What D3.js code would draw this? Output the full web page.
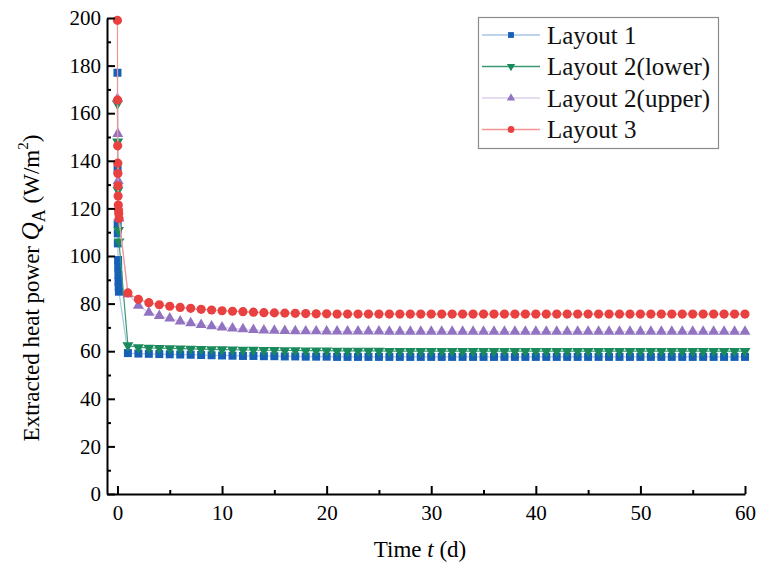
<!DOCTYPE html>
<html>
<head>
<meta charset="utf-8">
<script src="https://cdn.jsdelivr.net/npm/d3@7"></script>
<style>
  html, body { margin: 0; padding: 0; background: #fff; }
  svg { display: block; font-family: "Liberation Serif", "Times New Roman", serif; }
</style>
</head>
<body>
<svg id="chart" width="757" height="568"></svg>
<script>
// Extracted heat power over time for the four layouts.
// Each layout: a dense start-up phase on day 0, then one value per day (1..60).

const days = d3.range(1, 61);

// Layout 1
const layout1EarlyT = [0, 0.01, 0.02, 0.03, 0.04, 0.06, 0.07, 0.09, 0.1, 0.12, 0.14];
const layout1EarlyV = [177, 136.4, 113.7, 109.5, 105.3, 98.3, 95.2, 92.0, 89.2, 87.0, 85.0];
const layout1Daily = [
  59.2, 59.0, 58.9, 58.8, 58.7, 58.6, 58.5, 58.4, 58.3, 58.2,
  58.1, 58.0, 58.0, 57.9, 57.9, 57.8, 57.8, 57.7, 57.7, 57.7,
  57.6, 57.6, 57.6, 57.6, 57.6, 57.6, 57.6, 57.6, 57.6, 57.6,
  57.6, 57.6, 57.6, 57.6, 57.6, 57.6, 57.6, 57.6, 57.6, 57.6,
  57.6, 57.6, 57.6, 57.6, 57.6, 57.6, 57.6, 57.6, 57.6, 57.6,
  57.6, 57.6, 57.6, 57.6, 57.6, 57.6, 57.6, 57.6, 57.6, 57.6
];

// Layout 2 (lower)
const layout2LowEarlyT = [0, 0.02, 0.05, 0.1, 0.15];
const layout2LowEarlyV = [164, 148, 127.7, 110.9, 106];
const layout2LowDaily = [
  62.4, 61.6, 61.4, 61.3, 61.2, 61.1, 61.0, 60.9, 60.8, 60.7,
  60.6, 60.5, 60.5, 60.4, 60.4, 60.3, 60.3, 60.2, 60.2, 60.2,
  60.1, 60.1, 60.1, 60.1, 60.1, 60.0, 60.0, 60.0, 60.0, 60.0,
  60.0, 60.0, 60.0, 60.0, 60.0, 60.0, 60.0, 60.0, 60.0, 60.0,
  60.0, 60.0, 60.0, 60.0, 60.0, 60.0, 60.0, 60.0, 60.0, 60.0,
  60.0, 60.0, 60.0, 60.0, 60.0, 60.0, 60.0, 60.0, 60.0, 60.0
];

// Layout 2 (upper)
const layout2UpEarlyT = [0, 0.03, 0.07, 0.15];
const layout2UpEarlyV = [166, 151.3, 131.6, 115.8];
const layout2UpDaily = [
  84.0, 79.2, 76.2, 74.9, 73.8, 72.6, 71.8, 71.1, 70.5, 70.0,
  69.6, 69.3, 69.0, 68.8, 68.7, 68.6, 68.5, 68.4, 68.4, 68.3,
  68.3, 68.3, 68.3, 68.3, 68.3, 68.2, 68.2, 68.2, 68.2, 68.2,
  68.2, 68.2, 68.2, 68.2, 68.2, 68.2, 68.2, 68.2, 68.2, 68.2,
  68.2, 68.2, 68.2, 68.2, 68.2, 68.2, 68.2, 68.2, 68.2, 68.2,
  68.2, 68.2, 68.2, 68.2, 68.2, 68.2, 68.2, 68.2, 68.2, 68.2
];

// Layout 3
const layout3EarlyT = [0, 0.01, 0.02, 0.03, 0.04, 0.05, 0.06, 0.08, 0.1, 0.12, 0.15];
const layout3EarlyV = [199, 165.5, 146.3, 139, 134.7, 129.5, 125.2, 121.4, 119.3, 117.9, 115.8];
const layout3Daily = [
  84.5, 81.8, 80.4, 79.5, 78.9, 78.4, 78.0, 77.6, 77.3, 77.0,
  76.8, 76.6, 76.4, 76.2, 76.1, 76.0, 75.9, 75.8, 75.7, 75.7,
  75.6, 75.6, 75.6, 75.6, 75.6, 75.6, 75.6, 75.6, 75.6, 75.6,
  75.6, 75.6, 75.6, 75.6, 75.6, 75.6, 75.6, 75.6, 75.6, 75.6,
  75.6, 75.6, 75.6, 75.6, 75.6, 75.6, 75.6, 75.6, 75.6, 75.6,
  75.6, 75.6, 75.6, 75.6, 75.6, 75.6, 75.6, 75.6, 75.6, 75.6
];

const seriesNames = ["Layout 1", "Layout 2(lower)", "Layout 2(upper)", "Layout 3"];
const xMajorTicks = [0, 10, 20, 30, 40, 50, 60];
const xMinorTicks = [5, 15, 25, 35, 45, 55];
const yMajorTicks = [0, 20, 40, 60, 80, 100, 120, 140, 160, 180, 200];
const yMinorTicks = [10, 30, 50, 70, 90, 110, 130, 150, 170, 190];

function joinSeries(earlyT, earlyV, daily) {
  const pts = earlyT.map((t, i) => ({ t, v: earlyV[i] }));
  days.forEach((d, i) => pts.push({ t: d, v: daily[i] }));
  return pts;
}

const series = [
  { name: seriesNames[0], data: joinSeries(layout1EarlyT, layout1EarlyV, layout1Daily),
    line: "#a9c6e8", fill: "#1661b6", symbol: d3.symbolSquare, size: 64, legendSize: 34, rotate: 0 },
  { name: seriesNames[1], data: joinSeries(layout2LowEarlyT, layout2LowEarlyV, layout2LowDaily),
    line: "#3b9a72", fill: "#1a8a5c", symbol: d3.symbolTriangle, size: 52, legendSize: 30, rotate: 180 },
  { name: seriesNames[2], data: joinSeries(layout2UpEarlyT, layout2UpEarlyV, layout2UpDaily),
    line: "#ddd1eb", fill: "#9273c2", symbol: d3.symbolTriangle, size: 52, legendSize: 30, rotate: 0 },
  { name: seriesNames[3], data: joinSeries(layout3EarlyT, layout3EarlyV, layout3Daily),
    line: "#f19595", fill: "#e8413f", symbol: d3.symbolCircle, size: 66, legendSize: 36, rotate: 0 }
];

const svg = d3.select("#chart");
const x = d3.scaleLinear().domain([-1, 60]).range([107, 745]);
const y = d3.scaleLinear().domain([0, 200]).range([494, 18]);

// Series lines and markers
const line = d3.line().x(d => x(d.t)).y(d => y(d.v));
series.forEach(s => {
  const g = svg.append("g");
  g.append("path")
    .datum(s.data)
    .attr("d", line)
    .attr("fill", "none")
    .attr("stroke", s.line)
    .attr("stroke-width", 1.2);
  g.selectAll("path.m")
    .data(s.data)
    .join("path")
    .attr("class", "m")
    .attr("d", d3.symbol().type(s.symbol).size(s.size))
    .attr("transform", d => `translate(${x(d.t)},${y(d.v)}) rotate(${s.rotate})`)
    .attr("fill", s.fill);
});

// Axes
function styleAxis(g) {
  g.selectAll("path.domain").attr("stroke", "#000").attr("stroke-width", 2);
  g.selectAll(".tick line").attr("stroke", "#000").attr("stroke-width", 2);
  g.selectAll(".tick text").attr("fill", "#000")
    .style("font-family", '"Liberation Serif", "Times New Roman", serif')
    .style("font-size", "21px");
}

const xAxis = svg.append("g").attr("transform", `translate(0,${y(0)})`)
  .call(d3.axisBottom(x).tickValues(xMajorTicks).tickSize(-8).tickSizeOuter(0).tickPadding(11).tickFormat(d3.format("d")));
styleAxis(xAxis);
const xMinor = svg.append("g").attr("transform", `translate(0,${y(0)})`)
  .call(d3.axisBottom(x).tickValues(xMinorTicks).tickSize(-4).tickSizeOuter(0).tickFormat(""));
styleAxis(xMinor);
xMinor.select("path.domain").remove();

const yAxis = svg.append("g").attr("transform", `translate(${x(-1)},0)`)
  .call(d3.axisLeft(y).tickValues(yMajorTicks).tickSize(-8).tickSizeOuter(0).tickPadding(6).tickFormat(d3.format("d")));
styleAxis(yAxis);
const yMinor = svg.append("g").attr("transform", `translate(${x(-1)},0)`)
  .call(d3.axisLeft(y).tickValues(yMinorTicks).tickSize(-4).tickSizeOuter(0).tickFormat(""));
styleAxis(yMinor);
yMinor.select("path.domain").remove();

// Axis titles
const xTitle = svg.append("text")
  .attr("x", 420).attr("y", 557)
  .attr("text-anchor", "middle")
  .style("font-size", "23px");
xTitle.append("tspan").text("Time ");
xTitle.append("tspan").style("font-style", "italic").text("t");
xTitle.append("tspan").text(" (d)");

const yTitle = svg.append("text")
  .attr("transform", "translate(39,288) rotate(-90)")
  .attr("text-anchor", "middle")
  .style("font-size", "23px");
yTitle.append("tspan").text("Extracted heat power ");
yTitle.append("tspan").style("font-style", "italic").style("font-size", "25px").text("Q");
yTitle.append("tspan").attr("dy", 6).style("font-size", "18px").text("A");
yTitle.append("tspan").attr("dy", -6).text(" (W/m");
yTitle.append("tspan").attr("dy", -11).style("font-size", "15px").text("2");
yTitle.append("tspan").attr("dy", 11).text(")");

// Legend
const legend = svg.append("g");
legend.append("rect")
  .attr("x", 478.5).attr("y", 17.5)
  .attr("width", 240).attr("height", 131)
  .attr("fill", "#fff").attr("stroke", "#8a8a8a").attr("stroke-width", 1.2);
const rowY = [35, 66.5, 98, 129.5];
series.forEach((s, i) => {
  const row = legend.append("g").attr("transform", `translate(0,${rowY[i]})`);
  row.append("line").attr("x1", 482).attr("x2", 540).attr("y1", 0).attr("y2", 0)
    .attr("stroke", s.line).attr("stroke-width", 1.4);
  row.append("path")
    .attr("d", d3.symbol().type(s.symbol).size(s.legendSize))
    .attr("transform", `translate(511,0) rotate(${s.rotate})`)
    .attr("fill", s.fill);
  row.append("text").attr("x", 547).attr("y", 0).attr("dy", "0.35em")
    .style("font-size", "25px").attr("fill", "#111").text(s.name);
});
</script>
</body>
</html>
